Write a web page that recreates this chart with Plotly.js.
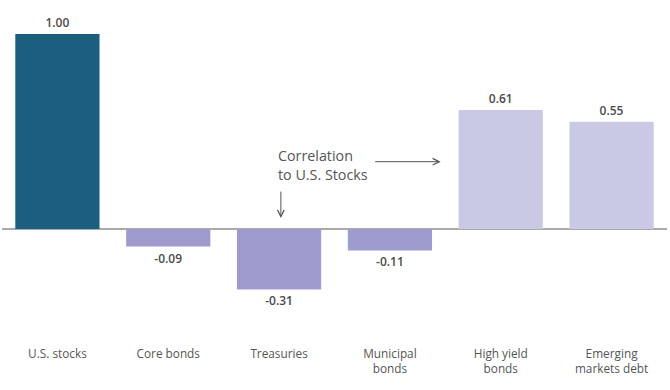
<!DOCTYPE html>
<html>
<head>
<meta charset="utf-8">
<script src="https://cdn.plot.ly/plotly-3.0.1.min.js"></script>
<style>
html,body{margin:0;padding:0;background:#fff;}
#chart{width:670px;height:390px;}
</style>
</head>
<body>
<div id="chart"></div>
<script>
const categories = ["U.S. stocks", "Core bonds", "Treasuries", "Municipal<br>bonds", "High yield<br>bonds", "Emerging<br>markets debt"];
const correlations = [1.00, -0.09, -0.31, -0.11, 0.61, 0.55];
const valueLabels = ["1.00", "-0.09", "-0.31", "-0.11", "0.61", "0.55"];
const barColors = ["#1b5e7e", "#9f9bcf", "#9f9bcf", "#9f9bcf", "#c9c9e6", "#c9c9e6"];

const FONT = "Open Sans, sans-serif";

const trace = {
  type: "bar",
  x: categories,
  y: correlations,
  text: valueLabels,
  textposition: "outside",
  textfont: {family: FONT, size: 12, color: "#4a4a4a", weight: 600},
  cliponaxis: false,
  marker: {color: barColors, line: {width: 0}},
  hoverinfo: "skip"
};

const layout = {
  width: 670,
  height: 390,
  margin: {l: 2, r: 3, t: 0, b: 50},
  paper_bgcolor: "#fff",
  plot_bgcolor: "#fff",
  showlegend: false,
  bargap: 0.24,
  font: {family: FONT, color: "#555"},
  xaxis: {
    type: "category",
    showgrid: false,
    showline: false,
    zeroline: false,
    ticks: "",
    ticklabelstandoff: 5,
    tickfont: {family: FONT, size: 11.8, color: "#555"},
    fixedrange: true
  },
  yaxis: {
    range: [-0.569, 1.174],
    showgrid: false,
    showline: false,
    showticklabels: false,
    ticks: "",
    zeroline: true,
    zerolinecolor: "#aaaaaa",
    zerolinewidth: 2,
    fixedrange: true
  },
  annotations: [
    {
      xref: "x", yref: "y", x: 1.975, y: 0.326,
      xanchor: "left", yanchor: "middle", align: "left",
      text: "Correlation<br>to U.S. Stocks",
      showarrow: false,
      font: {family: FONT, size: 14.3, color: "#555"}
    },
    {
      xref: "x", yref: "y", x: 3.458, y: 0.345,
      ax: -67, ay: 0, text: "",
      showarrow: true, arrowhead: 5, arrowsize: 1.3, arrowwidth: 1, arrowcolor: "#555"
    },
    {
      xref: "x", yref: "y", x: 2.016, y: 0.056,
      ax: 0, ay: -28, text: "",
      showarrow: true, arrowhead: 5, arrowsize: 1.3, arrowwidth: 1, arrowcolor: "#555"
    }
  ]
};

Plotly.newPlot("chart", [trace], layout, {displayModeBar: false, staticPlot: true});
</script>
</body>
</html>
